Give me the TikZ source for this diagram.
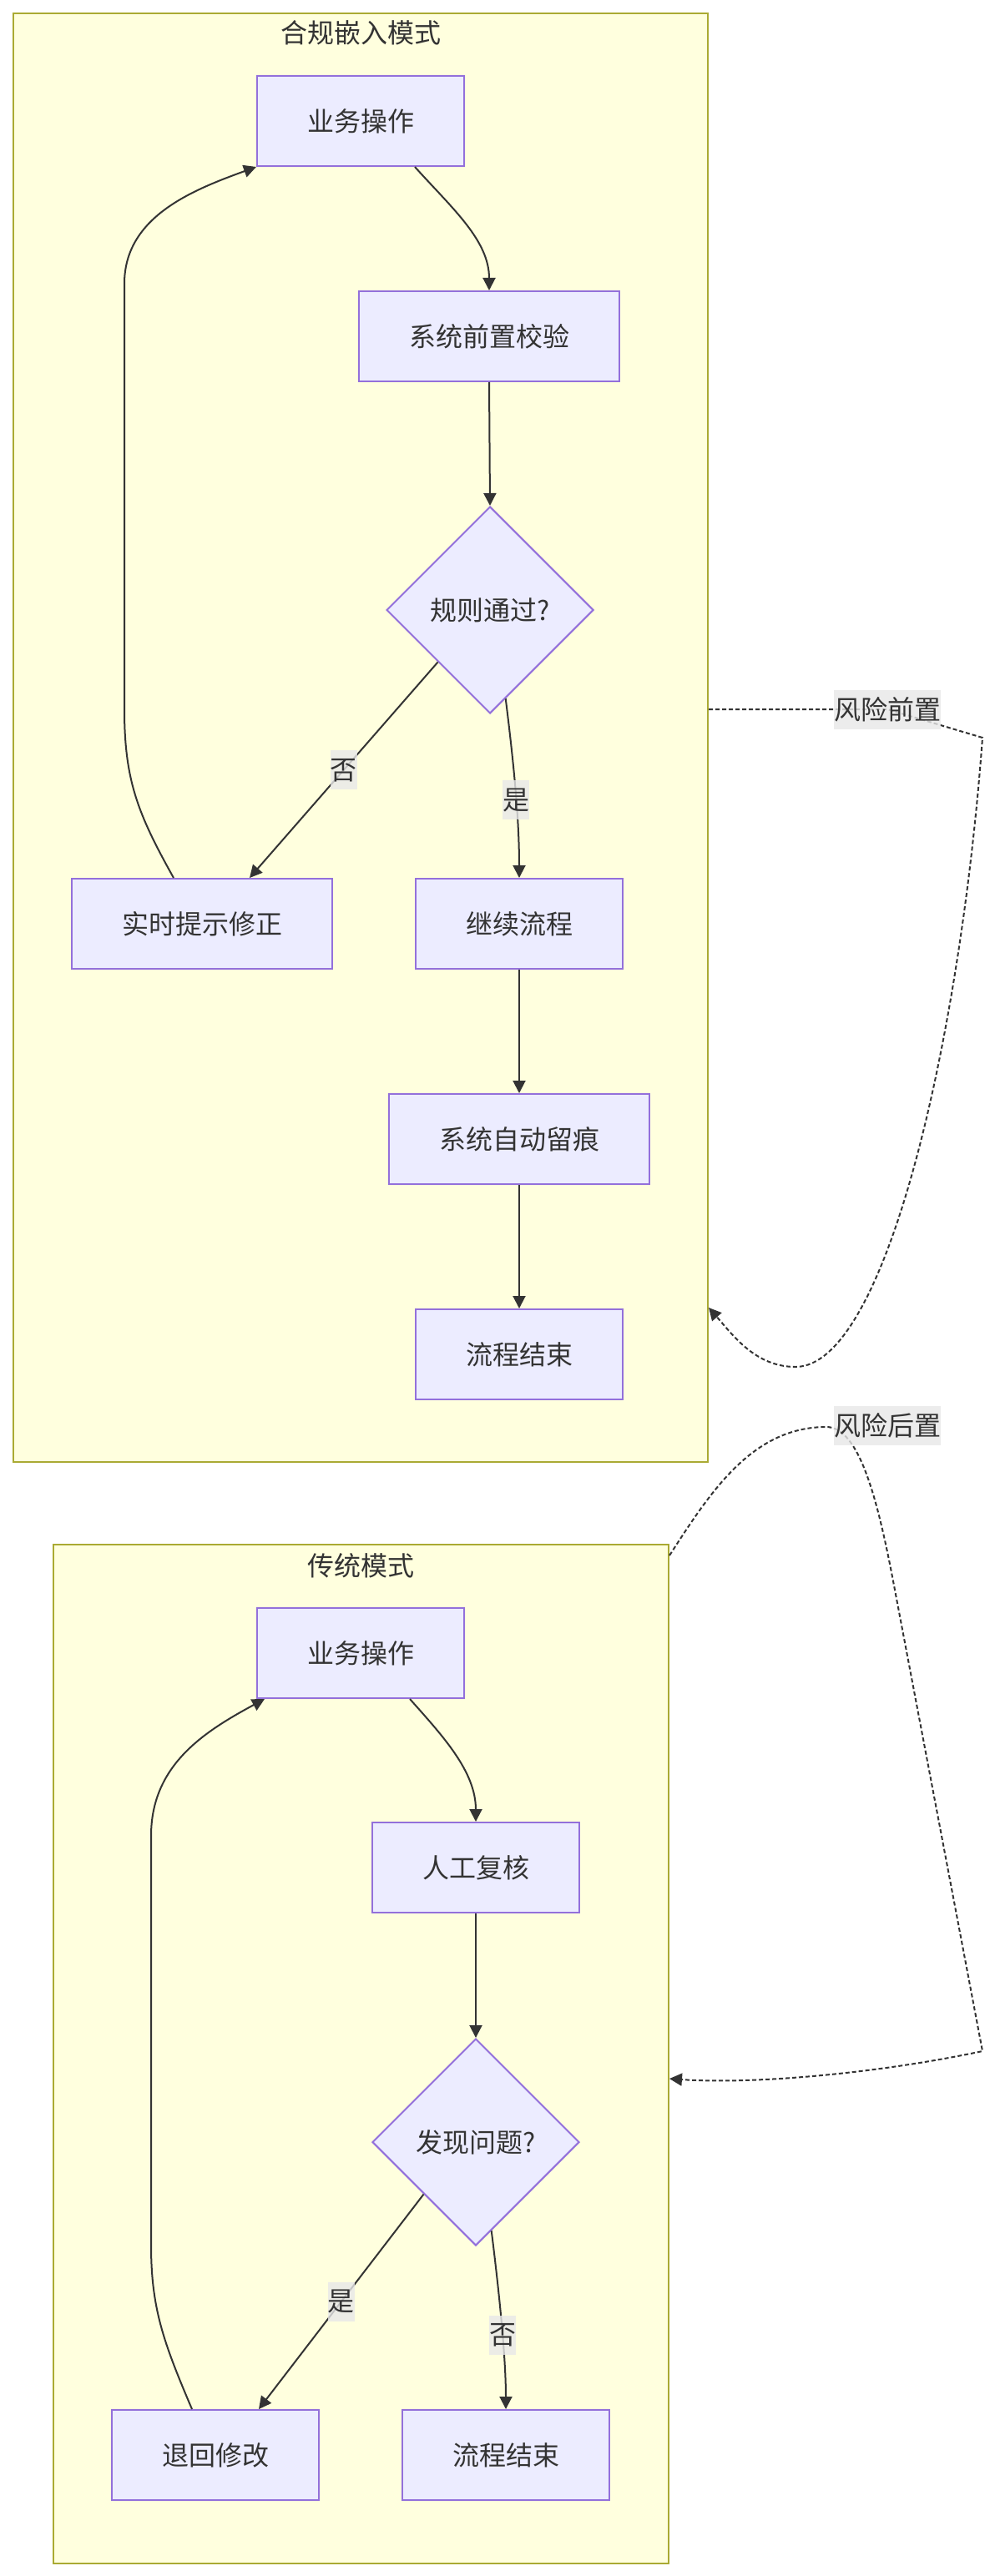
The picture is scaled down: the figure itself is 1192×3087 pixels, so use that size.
\documentclass[tikz,border=0pt]{standalone}
\usepackage{fontspec}
\newfontfamily\cjk{Noto Sans CJK SC}
\usepackage{xcolor}
\usetikzlibrary{arrows.meta,shapes.geometric}
\definecolor{clfill}{HTML}{FFFFDE}
\definecolor{cldraw}{HTML}{AAAA33}
\definecolor{ndfill}{HTML}{ECECFF}
\definecolor{nddraw}{HTML}{9370DB}
\definecolor{ink}{HTML}{333333}
\definecolor{lblbg}{HTML}{E8E8E8}
\begin{document}
\begin{tikzpicture}[x=0.5pt,y=-0.5pt,>={Triangle[length=7.5pt,width=7.5pt]},
every node/.style={font=\cjk\fontsize{16}{24}\selectfont,text=ink},
cluster/.style={draw=cldraw,fill=clfill,line width=1pt,inner sep=0pt},
box/.style={draw=nddraw,fill=ndfill,line width=1pt,minimum height=54pt,inner xsep=30pt,inner ysep=0pt},
decide/.style={diamond,aspect=1,draw=nddraw,fill=ndfill,line width=1pt,minimum width=124pt,minimum height=124pt,inner sep=0pt},
lbl/.style={fill=lblbg,fill opacity=0.8,text opacity=1,inner sep=0pt,minimum height=23.5pt},
edge/.style={->,draw=ink,line width=1pt},
risk/.style={->,draw=ink,line width=1pt,dash pattern=on 2.5pt off 1.5pt}]
\useasboundingbox(0,0)rectangle(1192,3087);
\fill[white](0,0)rectangle(1192,3087);
\node[cluster,minimum width=416pt,minimum height=868pt](emb)at(432,884){};
\node(embt)at([yshift=-12pt]emb.north){合规嵌入模式};
\node[cluster,minimum width=368.5pt,minimum height=610.5pt](trad)at(432.5,2461.5){};
\node(tradt)at([yshift=-13pt]trad.north){传统模式};
\node[box](op1)at(432,145){业务操作};
\node[box](chk)at(586,403){系统前置校验};
\node[decide](rule)at(587,731){规则通过?};
\node[box](fix)at(242,1107){实时提示修正};
\node[box](go)at(622,1107){继续流程};
\node[box](trace)at(622,1365){系统自动留痕};
\node[box](end1)at(622,1623){流程结束};
\node[box](op2)at(432,1981){业务操作};
\node[box](review)at(570,2238){人工复核};
\node[decide](issue)at(570,2567){发现问题?};
\node[box](back)at(258,2942){退回修改};
\node[box](end2)at(606,2942){流程结束};
\draw[edge]([xshift=32.5pt]op1.south)..controls+(45,50)and+(0,-60)..(chk.north);
\draw[edge](chk.south)--(rule.north);
\draw[edge](rule.south west)--node[lbl]{否}([xshift=28.5pt]fix.north);
\draw[edge](rule.-80)..controls+(10,80)and+(0,-70)..node[lbl,pos=0.55]{是}(go.north);
\draw[edge](go.south)--(trace.north);
\draw[edge](trace.south)--(end1.north);
\draw[edge]([xshift=-17pt]fix.north)..controls(165,975)and(149,935)..(149,850)--(149,340)
..controls(149,260)and(230,228)..(op1.south west);
\draw[edge]([xshift=29.5pt]op2.south)..controls+(40,45)and+(0,-60)..(review.north);
\draw[edge](review.south)--(issue.north);
\draw[edge](issue.south west)--node[lbl]{是}([xshift=26pt]back.north);
\draw[edge](issue.-80)..controls+(10,80)and+(0,-60)..node[lbl,pos=0.55]{否}(end2.north);
\draw[edge]([xshift=-14pt]back.north)..controls(195,2805)and(181,2765)..(181,2690)--(181,2200)
..controls(181,2115)and(245,2075)..([xshift=5pt]op2.south west);
\draw[risk](emb.east|-0,850)--(1063,850)node[lbl](pre){风险前置}--(1177,884)
..controls(1150,1250)and(1060,1638)..(953,1638)..controls(905,1638)and(878,1600)..([yshift=93pt]emb.south east);
\draw[risk]([yshift=-7pt]trad.north east)..controls(850,1790)and(900,1710)..(990,1710)
..controls(1030,1710)and(1052,1800)..(1071,1900)--(1177,2458)
..controls(1050,2485)and(900,2498)..([yshift=-14.75pt]trad.east)node[lbl](post)at(1063,1708){风险后置};
\end{tikzpicture}
\end{document}
